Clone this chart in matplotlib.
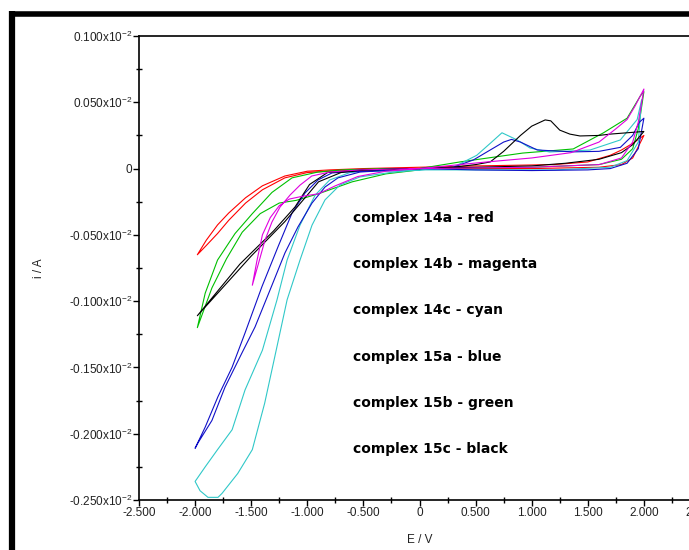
import numpy as np
import matplotlib
matplotlib.use("Agg")
import matplotlib.pyplot as plt
from matplotlib.ticker import FixedLocator, MultipleLocator
from matplotlib.lines import Line2D

# cyclic voltammograms, E in V, i in units of 1e-2 A
red_E = [0.0, -0.5, -0.8, -1.0, -1.2, -1.4, -1.55, -1.7, -1.8, -1.9, -1.98,
         -1.9, -1.8, -1.7, -1.55, -1.4, -1.2, -1.0, -0.8, -0.5, 0.0, 0.5, 1.2, 1.5, 1.7, 1.8, 1.9, 2.0,
         1.9, 1.8, 1.6, 1.0, 0.0]
red_I = [0.0, -0.001, -0.002, -0.003, -0.007, -0.016, -0.026, -0.039, -0.049, -0.058, -0.065,
         -0.054, -0.0425, -0.0335, -0.022, -0.013, -0.0056, -0.002, -0.001, 0.0, 0.001, 0.002, 0.003, 0.005, 0.010, 0.014, 0.019, 0.025,
         0.008, 0.003, 0.001, 0.0, 0.0]

mag_E = [0.0, -0.3, -0.53, -0.8, -0.96, -1.065, -1.154, -1.243, -1.315, -1.377, -1.439, -1.49,
         -1.45, -1.40, -1.33, -1.25, -1.16, -1.05, -0.90, -0.75, -0.55, -0.3, 0.0,
         0.6, 1.0, 1.35, 1.6, 1.75, 1.85, 1.92, 2.0,
         1.95, 1.9, 1.8, 1.6, 1.0, 0.0]
mag_I = [0.0, -0.0005, -0.001, -0.0026, -0.0056, -0.0125, -0.020, -0.029, -0.0403, -0.054, -0.0727, -0.088,
         -0.070, -0.050, -0.037, -0.028, -0.023, -0.021, -0.019, -0.013, -0.006, -0.002, 0.0,
         0.005, 0.008, 0.012, 0.020, 0.030, 0.037, 0.047, 0.060,
         0.035, 0.020, 0.008, 0.003, 0.001, 0.0]

cyn_E = [0.0, -0.3, -0.5, -0.62, -0.80, -0.93, -1.065, -1.18, -1.27, -1.40, -1.555, -1.67, -1.80, -1.91, -2.0,
         -1.956, -1.885, -1.796, -1.76, -1.62, -1.49, -1.38, -1.29, -1.18, -1.065, -0.958, -0.842, -0.709, -0.53, -0.263, 0.0,
         0.3, 0.51, 0.63, 0.735, 0.87, 0.985, 1.16, 1.52, 1.79, 1.94, 1.98,
         1.95, 1.85, 1.7, 1.2, 0.5, 0.0]
cyn_I = [-0.001, -0.002, -0.002, -0.003, -0.0086, -0.020, -0.0427, -0.069, -0.099, -0.137, -0.167, -0.197, -0.212, -0.225, -0.236,
         -0.243, -0.248, -0.248, -0.245, -0.23, -0.212, -0.177, -0.142, -0.099, -0.069, -0.0427, -0.0236, -0.0124, -0.0063, -0.003, -0.001,
         0.001, 0.010, 0.019, 0.027, 0.0216, 0.0155, 0.0125, 0.014, 0.0216, 0.037, 0.052,
         0.02, 0.006, 0.001, -0.001, -0.001, -0.001]

blu_E = [0.0, -0.53, -0.726, -0.842, -0.958, -1.083, -1.199, -1.315, -1.466, -1.582, -1.734, -1.85, -1.975, -2.0,
         -1.91, -1.796, -1.671, -1.555, -1.404, -1.261, -1.136, -1.02, -0.905, -0.78, -0.664, -0.3, 0.0,
         0.3, 0.48, 0.63, 0.75, 0.82, 0.9, 1.05, 1.37, 1.6, 1.79, 1.9, 1.96, 2.0,
         1.95, 1.85, 1.7, 1.5, 1.0, 0.5, 0.0]
blu_I = [0.0, -0.0026, -0.007, -0.0139, -0.026, -0.044, -0.0636, -0.088, -0.1195, -0.139, -0.165, -0.19, -0.207, -0.211,
         -0.195, -0.172, -0.15, -0.124, -0.089, -0.059, -0.0335, -0.0184, -0.0086, -0.0033, -0.0026, -0.001, 0.0,
         0.001, 0.0065, 0.014, 0.020, 0.022, 0.020, 0.014, 0.0126, 0.013, 0.016, 0.025, 0.035, 0.038,
         0.015, 0.004, 0.0, -0.001, -0.0015, -0.001, 0.0]

grn_E = [0.0, -0.3, -0.6, -0.9, -1.1, -1.25, -1.42, -1.58, -1.72, -1.85, -1.98,
         -1.91, -1.80, -1.644, -1.49, -1.315, -1.136, -0.905, -0.69, -0.3, 0.0,
         0.36, 0.92, 1.37, 1.64, 1.85, 1.97, 2.0,
         1.95, 1.9, 1.8, 1.6, 1.0, 0.0]
grn_I = [-0.001, -0.004, -0.010, -0.019, -0.024, -0.026, -0.034, -0.048, -0.068, -0.090, -0.120,
         -0.094, -0.069, -0.049, -0.034, -0.018, -0.007, -0.0026, -0.001, 0.0, 0.0,
         0.005, 0.0117, 0.0148, 0.027, 0.038, 0.055, 0.058,
         0.03, 0.015, 0.007, 0.003, 0.001, 0.0]

blk_E = [0.0, -0.5, -0.7, -0.9, -1.05, -1.2, -1.5, -1.98,
         -1.6, -1.3, -1.11, -0.98, -0.82, -0.5, 0.0,
         0.3, 0.5, 0.63, 0.75, 0.9, 1.0, 1.12, 1.17, 1.25, 1.34, 1.43, 1.6, 1.7, 1.85, 2.0,
         1.9, 1.8, 1.6, 1.3, 1.0, 0.5, 0.0]
blk_I = [0.0, -0.001, -0.003, -0.010, -0.025, -0.040, -0.066, -0.111,
         -0.072, -0.047, -0.029, -0.012, -0.003, -0.001, 0.0,
         0.001, 0.003, 0.005, 0.013, 0.025, 0.032, 0.0367, 0.036, 0.029, 0.026, 0.0246, 0.025, 0.026, 0.027, 0.028,
         0.018, 0.012, 0.007, 0.004, 0.002, 0.001, 0.0]

legend_lines = ['complex 14a - red', 'complex 14b - magenta', 'complex 14c - cyan',
                'complex 15a - blue', 'complex 15b - green', 'complex 15c - black']

x_ticks = [-2.5, -2.0, -1.5, -1.0, -0.5, 0.0, 0.5, 1.0, 1.5, 2.0, 2.5]
x_labels = ['-2.500', '-2.000', '-1.500', '-1.000', '-0.500', '0', '0.500', '1.000', '1.500', '2.000', '2.500']
y_ticks = [0.1, 0.05, 0.0, -0.05, -0.1, -0.15, -0.2, -0.25]
y_labels = ['0.100x10$^{-2}$', '0.050x10$^{-2}$', '0', '-0.050x10$^{-2}$', '-0.100x10$^{-2}$',
            '-0.150x10$^{-2}$', '-0.200x10$^{-2}$', '-0.250x10$^{-2}$']

plt.rcParams['font.family'] = ['Liberation Sans', 'DejaVu Sans']
plt.rcParams['mathtext.fontset'] = 'custom'
plt.rcParams['mathtext.rm'] = 'Liberation Sans'

W, H = 689, 550
fig = plt.figure(figsize=(W / 100., H / 100.), dpi=100)
ax = fig.add_axes([139. / W, 50. / H, (700. - 139.) / W, (500. - 36.) / H])

ax.plot(red_E, red_I, color='#ff0000', lw=0.8)
ax.plot(grn_E, grn_I, color='#00c000', lw=0.8)
ax.plot(cyn_E, cyn_I, color='#30c8c8', lw=0.8)
ax.plot(blu_E, blu_I, color='#1010c8', lw=0.8)
ax.plot(blk_E, blk_I, color='#000000', lw=0.8)
ax.plot(mag_E, mag_I, color='#e000e0', lw=0.8)

ax.set_xlim(-2.5, 2.5)
ax.set_ylim(-0.25, 0.1)
ax.xaxis.set_major_locator(FixedLocator(x_ticks))
ax.set_xticklabels(x_labels)
ax.xaxis.set_minor_locator(MultipleLocator(0.25))
ax.yaxis.set_major_locator(FixedLocator(y_ticks))
ax.set_yticklabels(y_labels)
ax.yaxis.set_minor_locator(MultipleLocator(0.025))
ax.tick_params(which='major', direction='out', length=4, width=1, labelsize=8.5,
               labelcolor='#222222', pad=1)
ax.tick_params(which='minor', direction='inout', length=4, width=1)
for s in ax.spines.values():
    s.set_linewidth(1.2)

ax.set_xlabel('E / V', fontsize=8.5, color='#222222', labelpad=11)
ax.set_ylabel('i / A', fontsize=8.5, color='#222222')
ax.yaxis.set_label_coords(-0.168, 0.5)

for k, t in enumerate(legend_lines):
    fig.text(353. / W, 1 - (218. + 46.2 * k) / H, t, fontsize=10, fontweight='bold',
             family='DejaVu Sans', va='center', ha='left')

# thick outer frame (left and top)
fig.add_artist(Line2D([12. / W, 12. / W], [0, 1 - 11. / H], color='black', lw=4.5,
                      transform=fig.transFigure, solid_capstyle='butt'))
fig.add_artist(Line2D([9. / W, 1], [1 - 13.5 / H, 1 - 13.5 / H], color='black', lw=4,
                      transform=fig.transFigure, solid_capstyle='butt'))

plt.savefig('out.png', dpi=100)
